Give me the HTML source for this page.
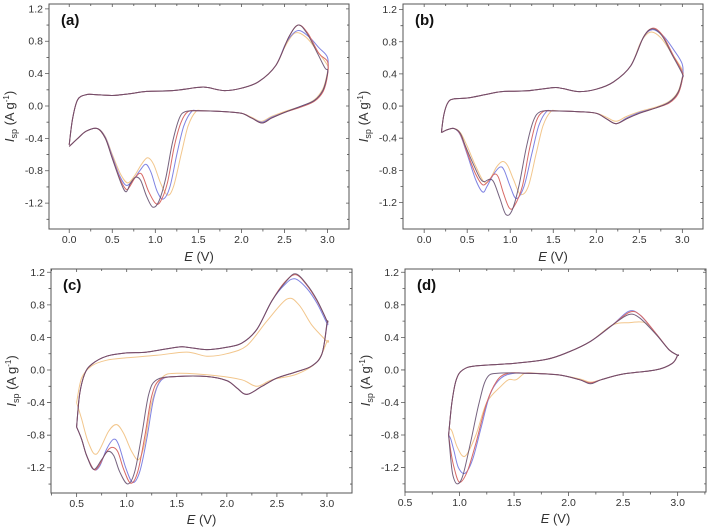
<!DOCTYPE html>
<html><head><meta charset="utf-8"><style>
html,body{margin:0;padding:0;background:#fff;}
svg{display:block;font-family:"Liberation Sans",Arial,sans-serif;}
</style></head><body>
<svg id="fig" width="709" height="527" viewBox="0 0 709 527"></svg>
<script>
// ---- data (E in V, I in A/g) ----
const colors = ["#f2c68c","#7f83e2","#d86a66","#5e4868"]; // orange, blue, red, dark
const seriesNames = ["cycle-orange","cycle-blue","cycle-red","cycle-dark"];

// Panel (a)
const aUpper = [[0,-0.48],[0.04,-0.15],[0.1,0.08],[0.2,0.14],[0.3,0.14],[0.5,0.13],[0.7,0.15],[0.9,0.18],[1.2,0.19],[1.5,0.23],[1.6,0.23],[1.8,0.19],[2.0,0.22],[2.2,0.3],[2.4,0.5]];
const aTailOrange = [[2.5,0.72],[2.62,0.9],[2.75,0.85],[2.88,0.68],[3.0,0.5]];
const aTailBlue = [[2.52,0.78],[2.65,0.93],[2.78,0.86],[2.9,0.72],[3.0,0.6]];
const aTailRed = [[2.55,0.85],[2.66,1.0],[2.77,0.9],[2.9,0.65],[3.0,0.55]];
const aTailDark = [[2.55,0.85],[2.66,1.0],[2.76,0.9],[2.88,0.66],[2.97,0.47],[3.0,0.45]];
const aLowOrange = [[3.0,0.42],[2.95,0.22],[2.85,0.08],[2.7,0.0],[2.5,-0.07],[2.35,-0.13],[2.23,-0.19],[2.12,-0.14],[2.0,-0.09],[1.8,-0.07],[1.55,-0.06],[1.47,-0.07],[1.38,-0.25],[1.3,-0.6],[1.21,-1.0],[1.14,-1.1],[1.06,-0.95],[0.98,-0.72],[0.91,-0.64],[0.84,-0.72],[0.76,-0.86],[0.68,-0.95],[0.6,-0.85],[0.5,-0.6],[0.42,-0.38],[0.33,-0.28],[0.2,-0.31],[0.1,-0.4],[0,-0.5]];
const aLowBlue = [[3.0,0.4],[2.95,0.2],[2.85,0.07],[2.7,0.0],[2.5,-0.08],[2.35,-0.14],[2.24,-0.2],[2.12,-0.15],[2.0,-0.09],[1.8,-0.07],[1.5,-0.06],[1.42,-0.07],[1.33,-0.25],[1.25,-0.6],[1.17,-1.0],[1.09,-1.15],[1.02,-1.05],[0.95,-0.82],[0.89,-0.72],[0.82,-0.8],[0.74,-0.92],[0.66,-0.98],[0.58,-0.85],[0.5,-0.62],[0.42,-0.39],[0.33,-0.28],[0.2,-0.31],[0.1,-0.4],[0,-0.5]];
const aLowRed = [[3.0,0.38],[2.95,0.18],[2.85,0.06],[2.7,-0.01],[2.5,-0.08],[2.35,-0.15],[2.24,-0.21],[2.12,-0.15],[2.0,-0.09],[1.8,-0.07],[1.5,-0.06],[1.38,-0.07],[1.3,-0.2],[1.22,-0.5],[1.14,-0.95],[1.06,-1.18],[1.0,-1.2],[0.92,-1.05],[0.84,-0.84],[0.77,-0.88],[0.7,-1.0],[0.66,-1.03],[0.59,-0.9],[0.5,-0.64],[0.42,-0.4],[0.33,-0.28],[0.2,-0.31],[0.1,-0.4],[0,-0.5]];
const aLowDark = [[3.0,0.4],[2.95,0.2],[2.85,0.07],[2.7,0.0],[2.5,-0.08],[2.35,-0.15],[2.24,-0.21],[2.12,-0.15],[2.0,-0.09],[1.8,-0.07],[1.5,-0.06],[1.35,-0.07],[1.28,-0.15],[1.2,-0.45],[1.12,-0.9],[1.04,-1.18],[0.97,-1.25],[0.9,-1.12],[0.83,-0.92],[0.77,-0.88],[0.71,-0.96],[0.66,-1.06],[0.6,-0.95],[0.5,-0.65],[0.42,-0.4],[0.33,-0.28],[0.2,-0.31],[0.1,-0.4],[0,-0.5]];

// Panel (b)
const bUpper = [[0.2,-0.33],[0.23,-0.1],[0.28,0.05],[0.35,0.09],[0.5,0.1],[0.7,0.14],[0.9,0.18],[1.2,0.19],[1.5,0.23],[1.6,0.22],[1.8,0.18],[2.0,0.21],[2.2,0.3],[2.4,0.5]];
const bTailOrange = [[2.52,0.8],[2.63,0.92],[2.75,0.85],[2.88,0.65],[3.0,0.45]];
const bTailBlue = [[2.54,0.84],[2.65,0.95],[2.78,0.87],[2.9,0.7],[3.0,0.52]];
const bTailRed = [[2.55,0.86],[2.66,0.97],[2.77,0.88],[2.9,0.62],[3.0,0.42]];
const bTailDark = [[2.55,0.86],[2.65,0.96],[2.76,0.88],[2.88,0.64],[3.0,0.4]];
const bLowOrange = [[3.0,0.36],[2.95,0.18],[2.85,0.06],[2.7,-0.01],[2.5,-0.07],[2.35,-0.13],[2.23,-0.19],[2.12,-0.14],[2.0,-0.09],[1.8,-0.07],[1.55,-0.06],[1.47,-0.07],[1.38,-0.25],[1.3,-0.6],[1.21,-1.0],[1.12,-1.1],[1.04,-0.92],[0.97,-0.74],[0.91,-0.69],[0.84,-0.76],[0.77,-0.9],[0.7,-0.95],[0.6,-0.75],[0.5,-0.5],[0.42,-0.33],[0.35,-0.28],[0.28,-0.29],[0.2,-0.33]];
const bLowBlue = [[3.0,0.34],[2.95,0.16],[2.85,0.05],[2.7,-0.02],[2.5,-0.08],[2.35,-0.15],[2.23,-0.22],[2.12,-0.16],[2.0,-0.09],[1.8,-0.07],[1.5,-0.06],[1.42,-0.07],[1.33,-0.25],[1.25,-0.6],[1.16,-1.0],[1.07,-1.15],[1.0,-1.0],[0.93,-0.8],[0.88,-0.76],[0.8,-0.86],[0.73,-1.0],[0.68,-1.07],[0.6,-0.92],[0.5,-0.6],[0.42,-0.36],[0.35,-0.28],[0.28,-0.29],[0.2,-0.33]];
const bLowRed = [[3.0,0.33],[2.95,0.15],[2.85,0.04],[2.7,-0.02],[2.5,-0.09],[2.35,-0.16],[2.23,-0.22],[2.12,-0.16],[2.0,-0.09],[1.8,-0.07],[1.5,-0.06],[1.38,-0.07],[1.3,-0.2],[1.22,-0.55],[1.14,-1.0],[1.05,-1.24],[0.99,-1.27],[0.92,-1.08],[0.86,-0.88],[0.81,-0.85],[0.75,-0.93],[0.68,-0.98],[0.6,-0.85],[0.5,-0.58],[0.42,-0.35],[0.35,-0.28],[0.28,-0.29],[0.2,-0.33]];
const bLowDark = [[3.0,0.35],[2.95,0.17],[2.85,0.05],[2.7,-0.02],[2.5,-0.09],[2.35,-0.16],[2.23,-0.22],[2.12,-0.16],[2.0,-0.09],[1.8,-0.07],[1.5,-0.06],[1.35,-0.07],[1.27,-0.18],[1.19,-0.5],[1.1,-1.0],[1.02,-1.3],[0.95,-1.35],[0.88,-1.15],[0.81,-0.95],[0.76,-0.91],[0.7,-0.94],[0.65,-0.9],[0.57,-0.72],[0.48,-0.5],[0.42,-0.34],[0.35,-0.28],[0.28,-0.29],[0.2,-0.33]];

// Panel (c)
const cUpper = [[0.5,-0.7],[0.53,-0.3],[0.58,-0.05],[0.65,0.07],[0.8,0.17],[1.0,0.21],[1.2,0.22],[1.5,0.28],[1.6,0.28],[1.8,0.25],[2.0,0.28],[2.15,0.33],[2.3,0.5],[2.45,0.85]];
const cUpperOrange = [[0.5,-0.4],[0.55,-0.1],[0.65,0.05],[0.8,0.12],[1.0,0.15],[1.3,0.18],[1.6,0.22],[1.8,0.17],[2.0,0.2],[2.2,0.3],[2.4,0.6],[2.6,0.87],[2.72,0.8],[2.85,0.55],[3.0,0.35]];
const cTailBlue = [[2.58,1.05],[2.68,1.12],[2.8,1.0],[2.9,0.82],[3.0,0.57]];
const cTailRed = [[2.58,1.08],[2.69,1.17],[2.8,1.04],[2.9,0.85],[3.0,0.6]];
const cTailDark = [[2.6,1.1],[2.69,1.18],[2.8,1.05],[2.9,0.86],[3.0,0.6]];
const cLowOrange = [[3.0,0.35],[2.9,0.1],[2.7,-0.05],[2.45,-0.12],[2.3,-0.2],[2.15,-0.12],[1.9,-0.07],[1.5,-0.04],[1.35,-0.1],[1.25,-0.4],[1.18,-0.9],[1.12,-1.1],[1.05,-1.0],[0.97,-0.78],[0.9,-0.67],[0.82,-0.75],[0.7,-1.03],[0.62,-0.9],[0.55,-0.6],[0.5,-0.4]];
const cLowBlue = [[3.0,0.55],[2.95,0.2],[2.85,0.05],[2.7,-0.02],[2.5,-0.1],[2.35,-0.2],[2.2,-0.3],[2.1,-0.22],[2.0,-0.13],[1.8,-0.08],[1.5,-0.08],[1.35,-0.12],[1.27,-0.35],[1.2,-0.85],[1.13,-1.25],[1.06,-1.38],[0.99,-1.2],[0.92,-0.92],[0.87,-0.85],[0.8,-0.97],[0.73,-1.18],[0.67,-1.22],[0.6,-1.05],[0.55,-0.85],[0.5,-0.7]];
const cLowRed = [[3.0,0.57],[2.95,0.2],[2.85,0.05],[2.7,-0.02],[2.5,-0.1],[2.35,-0.2],[2.2,-0.3],[2.1,-0.22],[2.0,-0.13],[1.8,-0.08],[1.5,-0.08],[1.33,-0.12],[1.25,-0.32],[1.18,-0.82],[1.11,-1.25],[1.04,-1.39],[0.97,-1.22],[0.91,-1.0],[0.85,-0.95],[0.79,-1.02],[0.72,-1.18],[0.67,-1.22],[0.6,-1.05],[0.55,-0.85],[0.5,-0.7]];
const cLowDark = [[3.0,0.58],[2.95,0.2],[2.85,0.05],[2.7,-0.02],[2.5,-0.1],[2.35,-0.2],[2.2,-0.3],[2.1,-0.22],[2.0,-0.13],[1.8,-0.08],[1.5,-0.08],[1.3,-0.12],[1.22,-0.3],[1.15,-0.8],[1.08,-1.25],[1.01,-1.4],[0.93,-1.25],[0.87,-1.05],[0.81,-1.0],[0.75,-1.1],[0.67,-1.22],[0.6,-1.05],[0.55,-0.85],[0.5,-0.7]];

// Panel (d)
const dUpper = [[0.9,-0.8],[0.93,-0.4],[0.97,-0.12],[1.03,0.0],[1.15,0.05],[1.5,0.08],[1.8,0.13],[2.0,0.22],[2.2,0.35],[2.4,0.55]];
const dTailOrange = [[2.55,0.58],[2.7,0.58],[2.8,0.45],[2.92,0.25],[3.0,0.18]];
const dTailBlue = [[2.55,0.72],[2.65,0.68],[2.8,0.45],[2.92,0.25],[3.0,0.18]];
const dTailRed = [[2.56,0.71],[2.66,0.67],[2.8,0.45],[2.92,0.25],[3.0,0.18]];
const dTailDark = [[2.55,0.68],[2.65,0.64],[2.8,0.44],[2.92,0.25],[3.0,0.18]];
const dLowOrange = [[3.0,0.18],[2.95,0.08],[2.8,0.0],[2.5,-0.05],[2.3,-0.12],[2.2,-0.15],[2.1,-0.11],[1.9,-0.06],[1.7,-0.04],[1.6,-0.04],[1.52,-0.12],[1.45,-0.12],[1.38,-0.2],[1.25,-0.4],[1.15,-0.8],[1.05,-1.06],[0.98,-0.95],[0.93,-0.75],[0.9,-0.72]];
const dLowBlue = [[3.0,0.18],[2.95,0.08],[2.8,0.0],[2.5,-0.05],[2.3,-0.12],[2.2,-0.16],[2.1,-0.12],[1.9,-0.06],[1.6,-0.04],[1.5,-0.04],[1.38,-0.1],[1.28,-0.3],[1.2,-0.7],[1.12,-1.1],[1.05,-1.27],[0.99,-1.2],[0.95,-1.0],[0.92,-0.85],[0.9,-0.8]];
const dLowRed = [[3.0,0.18],[2.95,0.08],[2.8,0.0],[2.5,-0.05],[2.3,-0.12],[2.2,-0.16],[2.1,-0.12],[1.9,-0.06],[1.6,-0.04],[1.45,-0.04],[1.35,-0.12],[1.25,-0.4],[1.15,-0.9],[1.07,-1.25],[1.0,-1.38],[0.95,-1.2],[0.92,-1.0],[0.9,-0.8]];
const dLowDark = [[3.0,0.18],[2.95,0.08],[2.8,0.0],[2.5,-0.05],[2.3,-0.12],[2.2,-0.17],[2.1,-0.12],[1.9,-0.06],[1.6,-0.04],[1.35,-0.04],[1.25,-0.1],[1.18,-0.4],[1.1,-0.9],[1.03,-1.3],[0.98,-1.4],[0.94,-1.3],[0.92,-1.1],[0.9,-0.8]];

const xTicksAB = [0,0.5,1,1.5,2,2.5,3];
const xTicksCD = [0.5,1,1.5,2,2.5,3];
const yTicks = [-1.2,-0.8,-0.4,0,0.4,0.8,1.2];

const panels = [
 {id:"a",box:[49,4,349,229],x:[-0.235,3.25],y:[-1.52,1.26],xt:xTicksAB,tOff:32,
  series:[aUpper.concat(aTailOrange,aLowOrange),aUpper.concat(aTailBlue,aLowBlue),aUpper.concat(aTailRed,aLowRed),aUpper.concat(aTailDark,aLowDark)]},
 {id:"b",box:[403,4,703,229],x:[-0.246,3.24],y:[-1.53,1.27],xt:xTicksAB,tOff:32,
  series:[bUpper.concat(bTailOrange,bLowOrange),bUpper.concat(bTailBlue,bLowBlue),bUpper.concat(bTailRed,bLowRed),bUpper.concat(bTailDark,bLowDark)]},
 {id:"c",box:[51,269,352,493],x:[0.244,3.25],y:[-1.51,1.24],xt:xTicksCD,tOff:31,
  series:[cUpperOrange.concat(cLowOrange),cUpper.concat(cTailBlue,cLowBlue),cUpper.concat(cTailRed,cLowRed),cUpper.concat(cTailDark,cLowDark)]},
 {id:"d",box:[405,269,706,492],x:[0.5,3.26],y:[-1.5,1.24],xt:xTicksCD,tOff:31,
  series:[dUpper.concat(dTailOrange,dLowOrange),dUpper.concat(dTailBlue,dLowBlue),dUpper.concat(dTailRed,dLowRed),dUpper.concat(dTailDark,dLowDark)]}
];

const NS="http://www.w3.org/2000/svg";
const svg=document.getElementById("fig");
function mk(tag,attrs,parent){const e=document.createElementNS(NS,tag);for(const k in attrs)e.setAttribute(k,attrs[k]);(parent||svg).appendChild(e);return e;}
function smooth(p){let d="M"+p[0][0].toFixed(1)+","+p[0][1].toFixed(1);
 for(let i=0;i<p.length-1;i++){const p0=p[i-1]||p[i],p1=p[i],p2=p[i+1],p3=p[i+2]||p2;
  const c1=[p1[0]+(p2[0]-p0[0])/6,p1[1]+(p2[1]-p0[1])/6],c2=[p2[0]-(p3[0]-p1[0])/6,p2[1]-(p3[1]-p1[1])/6];
  d+="C"+c1[0].toFixed(1)+","+c1[1].toFixed(1)+" "+c2[0].toFixed(1)+","+c2[1].toFixed(1)+" "+p2[0].toFixed(1)+","+p2[1].toFixed(1);}
 return d;}
function fmt(v){return (Math.abs(v)<1e-9?0:v).toFixed(1);}

panels.forEach(P=>{
 const [x0,y0,x1,y1]=P.box;
 const sx=v=>x0+(v-P.x[0])/(P.x[1]-P.x[0])*(x1-x0);
 const sy=v=>y1-(v-P.y[0])/(P.y[1]-P.y[0])*(y1-y0);
 const g=mk("g",{});
 
 
 const frame=mk("rect",{x:x0,y:y0,width:x1-x0,height:y1-y0,fill:"none",stroke:"#555","stroke-width":1},g);
 
 
 let tk="";
 P.xt.forEach((t,i)=>{const X=sx(t);tk+=`M${X},${y1}v4M${X},${y0}v3`;
  const m=sx(t+0.25);if(m<x1)tk+=`M${m},${y1}v2.5M${m},${y0}v2`;
  if(i==0){const m0=sx(t-0.25);if(m0>x0)tk+=`M${m0},${y1}v2.5M${m0},${y0}v2`;}
  const lb=mk("text",{x:X,y:y1+14,"text-anchor":"middle","font-size":"10.5",fill:"#333"},g);lb.textContent=fmt(t);
  
  });
 for(let v=-1.4;v<=1.21;v+=0.2){const Y=sy(v);const major=Math.abs(Math.round(v*10)%4)==0;
  tk+=`M${x0},${Y}h-${major?4:2.5}M${x1},${Y}h-${major?3:2}`;}
 yTicks.forEach(t=>{const lb=mk("text",{x:x0-6,y:sy(t)+3.5,"text-anchor":"end","font-size":"10.5",fill:"#333"},g);lb.textContent=fmt(t);
  
  });
 const tp=mk("path",{d:tk,stroke:"#555","stroke-width":0.8,fill:"none"},g);
 
 
 P.series.forEach((s,i)=>{
  const pts=s.map(p=>[sx(p[0]),sy(p[1])]);
  const path=mk("path",{d:smooth(pts),fill:"none",stroke:colors[i],"stroke-width":1,"stroke-opacity":i==3?0.85:1},g);
  
  
 });
 const xl=mk("text",{x:(x0+x1)/2,y:y1+P.tOff,"text-anchor":"middle","font-size":"13",fill:"#333"},g);
 xl.innerHTML='<tspan font-style="italic">E</tspan> (V)';
 
 
 const cy=(y0+y1)/2, cx=x0-35;
 const yl=mk("text",{x:cx,y:cy,"text-anchor":"middle","font-size":"13",fill:"#333",transform:`rotate(-90 ${cx} ${cy})`},g);
 yl.innerHTML='<tspan font-style="italic">I</tspan><tspan font-size="9" dy="3">sp</tspan><tspan dy="-3"> (A g</tspan><tspan font-size="8" dy="-5">-1</tspan><tspan dy="5">)</tspan>';
 
 
 const pl=mk("text",{x:x0+12,y:y0+21,"font-size":"15","font-weight":"bold",fill:"#111"},g);
 pl.textContent="("+P.id+")";
 
 
});
</script>
</body></html>
